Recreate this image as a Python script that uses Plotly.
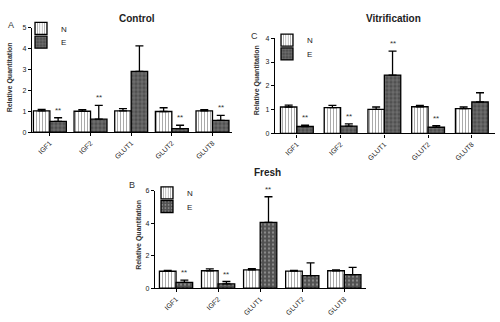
import plotly.graph_objects as go

genes = ["IGF1", "IGF2", "GLUT1", "GLUT2", "GLUT8"]

# Control (A)
ctrl_N = [1.02, 1.00, 1.02, 0.99, 1.02]
ctrl_N_err = [0.07, 0.08, 0.11, 0.18, 0.06]
ctrl_E = [0.52, 0.62, 2.91, 0.17, 0.56]
ctrl_E_err = [0.17, 0.66, 1.22, 0.16, 0.24]
ctrl_sig = [True, True, False, True, True]

# Vitrification (C)
vit_N = [1.11, 1.08, 1.01, 1.12, 1.04]
vit_N_err = [0.08, 0.10, 0.10, 0.06, 0.07]
vit_E = [0.29, 0.31, 2.45, 0.26, 1.32]
vit_E_err = [0.06, 0.09, 1.01, 0.07, 0.39]
vit_sig = [True, True, True, True, False]

# Fresh (B)
fr_N = [1.04, 1.07, 1.12, 1.05, 1.07]
fr_N_err = [0.06, 0.12, 0.08, 0.05, 0.05]
fr_E = [0.36, 0.27, 4.05, 0.77, 0.83]
fr_E_err = [0.14, 0.14, 1.57, 0.78, 0.45]
fr_sig = [True, True, True, False, False]

W, H = 500, 322
FONT = "Liberation Sans, Arial, sans-serif"
TXT = "#333333"

panels = [
    dict(title="Control", letter="A", N=ctrl_N, Ne=ctrl_N_err, E=ctrl_E, Ee=ctrl_E_err, sig=ctrl_sig,
         xpx=(32, 232), ypx=(131, 24.3), ymax=5, dtick=1, gap=0.19, xr=[-0.44, 4.48], ax="",
         legs=("legend", "legend2"), legx=41, legy=(25, 39),
         tpos=(137, 15), lpos=(11, 21), ytpos=(10, 75), eshape="+"),
    dict(title="Vitrification", letter="C", N=vit_N, Ne=vit_N_err, E=vit_E, Ee=vit_E_err, sig=vit_sig,
         xpx=(275, 495), ypx=(132.3, 35), ymax=4, dtick=1, gap=0.25, xr=[-0.5, 4.53], ax="2",
         legs=("legend3", "legend4"), legx=287, legy=(37, 51),
         tpos=(393, 15), lpos=(254, 33), ytpos=(257, 78), eshape="+"),
    dict(title="Fresh", letter="B", N=fr_N, Ne=fr_N_err, E=fr_E, Ee=fr_E_err, sig=fr_sig,
         xpx=(155, 366), ypx=(290.5, 190.7), ymax=6, dtick=2, gap=0.21, xr=[-0.5, 4.515], ax="3",
         legs=("legend5", "legend6"), legx=167, legy=(193, 207),
         tpos=(267, 172), lpos=(132, 185), ytpos=(139, 236), eshape="."),
]

fig = go.Figure()
annotations = []
layout = {}

for p in panels:
    xa = "x" + p["ax"]
    ya = "y" + p["ax"]
    bw = (1 - p["gap"]) / 2
    fig.add_trace(go.Bar(
        x=genes, y=p["N"], name="N", xaxis=xa, yaxis=ya, legend=p["legs"][0],
        width=bw, offset=-bw,
        marker=dict(color="white", line=dict(color="black", width=1.3),
                    pattern=dict(shape="|", fgcolor="#555555", bgcolor="white", size=3, solidity=0.35)),
        error_y=dict(type="data", symmetric=False, array=p["Ne"], arrayminus=[0] * 5,
                     color="black", thickness=1.3, width=4),
    ))
    fig.add_trace(go.Bar(
        x=genes, y=p["E"], name="E", xaxis=xa, yaxis=ya, legend=p["legs"][1],
        width=bw, offset=0,
        marker=dict(color="#555555", line=dict(color="black", width=1.3),
                    pattern=dict(shape=p["eshape"], fgcolor="#c8c8c8", bgcolor="#505050", size=4, solidity=0.25)),
        error_y=dict(type="data", symmetric=False, array=p["Ee"], arrayminus=[0] * 5,
                     color="black", thickness=1.3, width=4),
    ))
    xd = [p["xpx"][0] / W, p["xpx"][1] / W]
    yd = [1 - p["ypx"][0] / H, 1 - p["ypx"][1] / H]
    axis_common = dict(showline=True, linecolor="black", linewidth=1.3, ticks="outside",
                       ticklen=3, tickwidth=1.2, tickcolor="black", showgrid=False, zeroline=False)
    layout["xaxis" + p["ax"]] = dict(domain=xd, anchor=ya, type="category", range=p["xr"],
                                     tickangle=-45, tickfont=dict(family=FONT, size=7, color="#222222"),
                                     **axis_common)
    layout["yaxis" + p["ax"]] = dict(domain=yd, anchor=xa, range=[0, p["ymax"]], dtick=p["dtick"],
                                     tickfont=dict(family=FONT, size=7, color="#222222"), **axis_common)
    for leg, ly in zip(p["legs"], p["legy"]):
        layout[leg] = dict(x=(p["legx"] - 20) / W, y=1 - ly / H, xanchor="left", yanchor="middle",
                           bgcolor="rgba(0,0,0,0)", font=dict(family=FONT, size=8, color="#222222"),
                           itemwidth=30, borderwidth=0)
    eoff = bw / 2
    for i, s in enumerate(p["sig"]):
        if s:
            annotations.append(dict(x=i + eoff, y=p["E"][i] + p["Ee"][i], xref=xa, yref=ya,
                                    text="**", showarrow=False, xanchor="center", yanchor="bottom", yshift=1,
                                    font=dict(family=FONT, size=8, color=TXT)))
    annotations.append(dict(x=p["tpos"][0] / W, y=1 - p["tpos"][1] / H, xref="paper", yref="paper",
                            text="<b>" + p["title"] + "</b>", showarrow=False,
                            xanchor="center", yanchor="middle",
                            font=dict(family=FONT, size=10, color="#222222")))
    annotations.append(dict(x=p["lpos"][0] / W, y=1 - p["lpos"][1] / H, xref="paper", yref="paper",
                            text=p["letter"], showarrow=False, xanchor="center", yanchor="middle",
                            font=dict(family=FONT, size=9, color="#333333")))
    annotations.append(dict(x=p["ytpos"][0] / W, y=1 - p["ytpos"][1] / H, xref="paper", yref="paper",
                            text="<b>Relative Quantitation</b>", textangle=-90, showarrow=False,
                            xanchor="center", yanchor="middle",
                            font=dict(family=FONT, size=7, color=TXT)))

fig.update_layout(
    width=W, height=H, margin=dict(l=0, r=0, t=0, b=0),
    paper_bgcolor="white", plot_bgcolor="white",
    showlegend=True, annotations=annotations,
    **layout,
)

fig.write_html("out.html", config={"displayModeBar": False},
               post_script="document.body.style.margin='0px';")
